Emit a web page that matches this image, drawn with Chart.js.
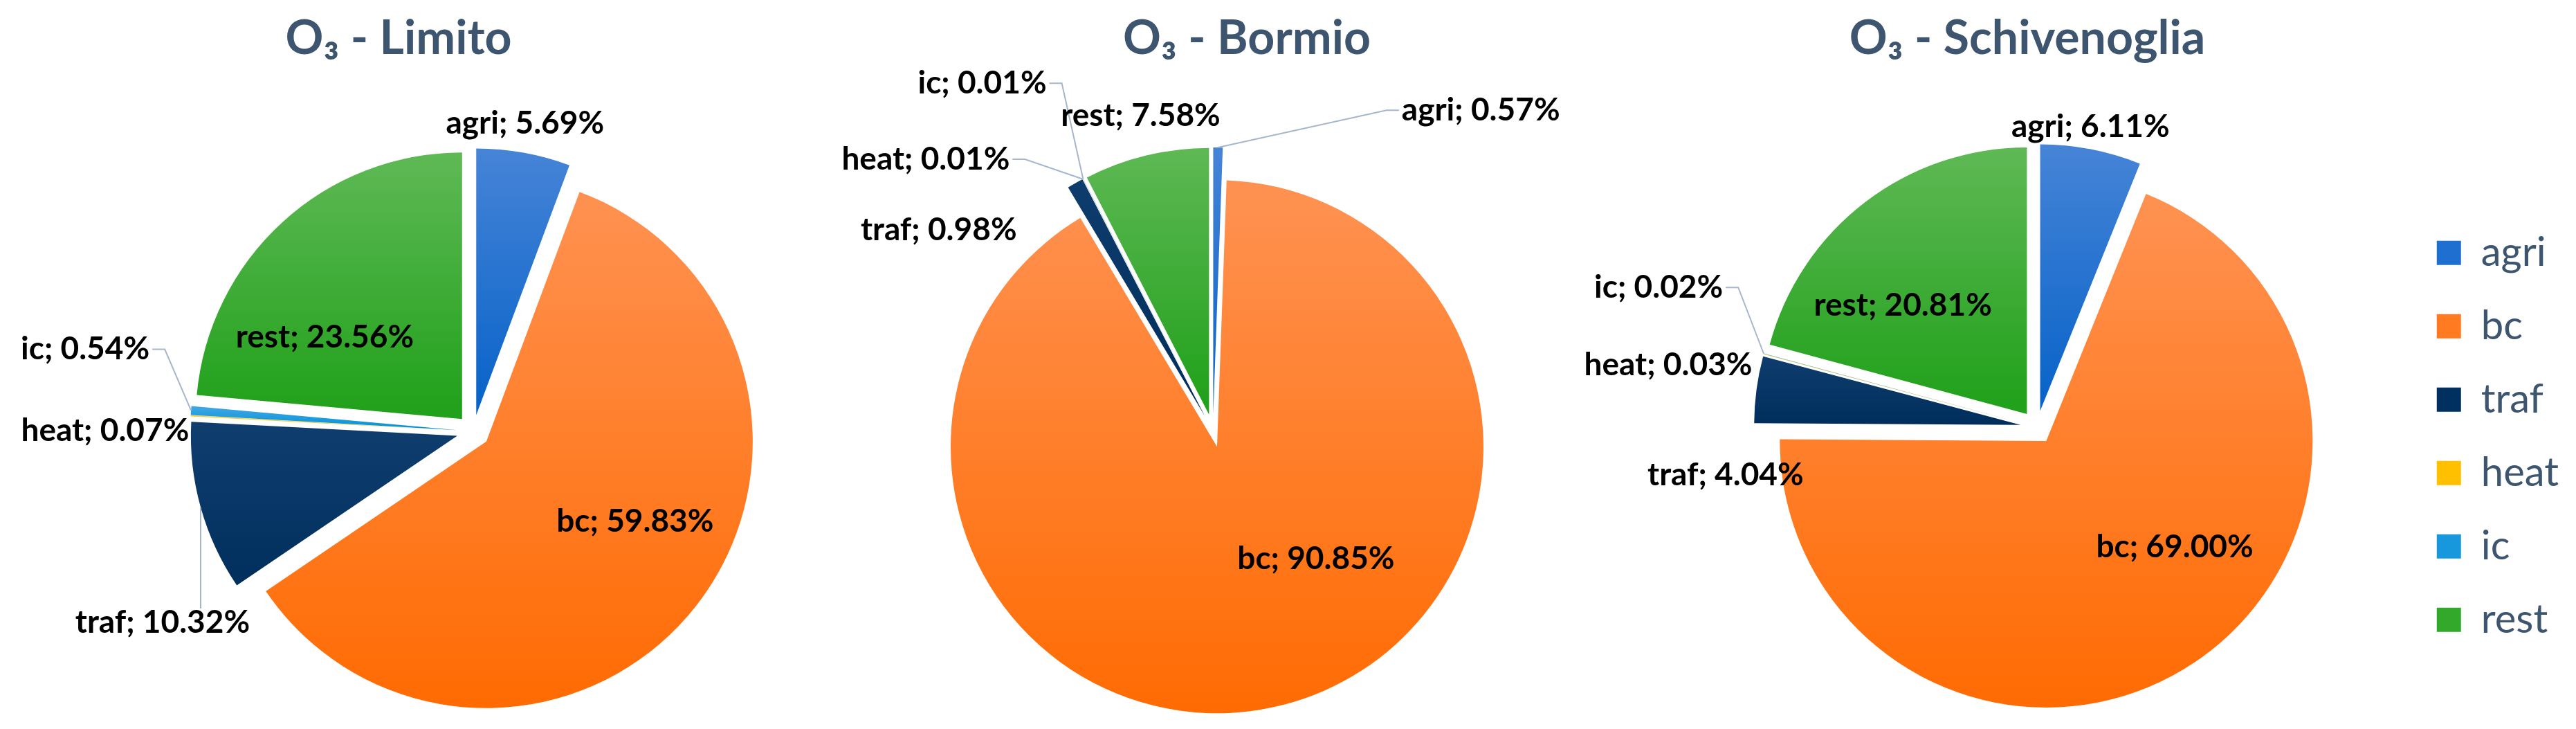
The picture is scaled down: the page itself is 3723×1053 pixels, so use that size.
<!DOCTYPE html>
<html>
<head>
<meta charset="utf-8">
<script src="https://cdn.jsdelivr.net/npm/chart.js@4.4.1/dist/chart.umd.min.js"></script>
<style>
  html, body { margin: 0; padding: 0; background: #fff; }
  #wrap { position: relative; width: 3723px; height: 1053px; overflow: hidden; }
  #wrap canvas { position: absolute; top: 0; }
</style>
</head>
<body>
<div id="wrap">
  <canvas id="c-limito" width="1152" height="1053" style="left:0px"></canvas>
  <canvas id="c-bormio" width="1300" height="1053" style="left:1152px"></canvas>
  <canvas id="c-schiv" width="1571" height="1053" style="left:2152px"></canvas>
</div>
<script>
// ---- data ----
const sources = ['agri', 'bc', 'traf', 'heat', 'ic', 'rest'];
const limitoShares = [5.69, 59.83, 10.32, 0.07, 0.54, 23.56];
const bormioShares = [0.57, 90.85, 0.98, 0.01, 0.01, 7.58];
const schivenogliaShares = [6.11, 69.00, 4.04, 0.03, 0.02, 20.81];

// ---- style ----
const baseColors = ['#0A64C9', '#FF6A00', '#002E5C', '#FFC000', '#0090D6', '#22A11C'];
const lightColors = ['#4A86D8', '#FF9150', '#0F3D6E', '#FFD233', '#45A9E6', '#62BA58'];
const legendColors = ['#1F6FD0', '#FF7A20', '#00305F', '#FFC000', '#1898DC', '#33A92C'];
const TEXT_BLUE = '#3E5570';
const PIE_RADIUS = 385;
const EXPLODE = 24;
const LABEL_FONT = 'bold 46px Lato, "Open Sans", sans-serif';

// label placement per slice: [angle nudge from slice middle (deg), distance / radius, leader line]
const limitoPlace = [[-0.7, 1.172, false], [-9.1, 0.695, false], [-16, 1.369, true], [-3, 1.382, false], [7.7, 1.489, true], [-15.2, 0.66, false]];
const bormioPlace = [[38.9, 1.567, true], [-24.4, 0.617, false], [-24.7, 1.275, false], [-19.3, 1.483, true], [-6.3, 1.565, true], [0.7, 1.212, false]];
const schivPlace = [[-0.9, 1.145, false], [-15.2, 0.685, false], [-16.4, 1.183, false], [-5.35, 1.404, false], [5.2, 1.514, true], [-10.4, 0.679, false]];

// vertical gradient over each slice's own extent (Excel-like fill)
function sliceFill(c) {
  const i = c.dataIndex;
  const area = c.chart.chartArea;
  if (!area || i === undefined) return baseColors[0];
  const vals = c.dataset.data;
  const total = vals.reduce((s, v) => s + v, 0);
  const before = vals.slice(0, i).reduce((s, v) => s + v, 0);
  const a0 = -Math.PI / 2 + 2 * Math.PI * before / total;
  const a1 = a0 + 2 * Math.PI * vals[i] / total;
  const mid = (a0 + a1) / 2;
  const cy = (area.top + area.bottom) / 2 + Math.sin(mid) * EXPLODE;
  const ys = [cy, cy + PIE_RADIUS * Math.sin(a0), cy + PIE_RADIUS * Math.sin(a1)];
  [Math.PI / 2, -Math.PI / 2, 3 * Math.PI / 2].forEach(k => { if (k > a0 && k < a1) ys.push(cy + PIE_RADIUS * Math.sin(k)); });
  const top = Math.min(...ys), bottom = Math.max(...ys);
  const g = c.chart.ctx.createLinearGradient(0, top, 0, bottom + 1);
  g.addColorStop(0, lightColors[i]);
  g.addColorStop(1, baseColors[i]);
  return g;
}

// move the chart area so the pie sits where it should under the title
const recenter = {
  id: 'recenter',
  afterLayout(chart, args, opts) {
    const a = chart.chartArea;
    const w = a.right - a.left, h = a.bottom - a.top;
    a.left = opts.x - w / 2; a.right = opts.x + w / 2;
    a.top = opts.y - h / 2; a.bottom = opts.y + h / 2;
  }
};

// exploded pie: every slice pushed out along its middle angle
const explode = {
  id: 'explode',
  beforeDatasetDraw(chart, args) {
    const ctx = chart.ctx;
    args.meta.data.forEach(arc => {
      const mid = (arc.startAngle + arc.endAngle) / 2;
      ctx.save();
      ctx.translate(Math.cos(mid) * EXPLODE, Math.sin(mid) * EXPLODE);
      arc.draw(ctx, chart.chartArea);
      ctx.restore();
    });
    return false;
  }
};

// "name; value%" labels, with leader lines for the far ones
const sliceLabels = {
  id: 'sliceLabels',
  afterDatasetsDraw(chart, args, opts) {
    const ctx = chart.ctx;
    const values = chart.data.datasets[0].data;
    const meta = chart.getDatasetMeta(0);
    ctx.save();
    ctx.font = LABEL_FONT;
    ctx.textAlign = 'center';
    ctx.textBaseline = 'middle';
    meta.data.forEach((arc, i) => {
      const {x, y, startAngle, endAngle, outerRadius} = arc.getProps(['x', 'y', 'startAngle', 'endAngle', 'outerRadius'], true);
      const [nudge, k, leader] = opts.place[i];
      const mid = (startAngle + endAngle) / 2;
      const a = mid + nudge * Math.PI / 180;
      const lx = x + Math.cos(a) * k * outerRadius;
      const ly = y + Math.sin(a) * k * outerRadius;
      const text = chart.data.labels[i] + '; ' + values[i].toFixed(2) + '%';
      if (leader) {
        const w = ctx.measureText(text).width;
        const px = x + Math.cos(mid) * (outerRadius + EXPLODE);
        const py = y + Math.sin(mid) * (outerRadius + EXPLODE);
        ctx.strokeStyle = '#A6B6CC';
        ctx.lineWidth = 2;
        ctx.beginPath();
        if (px > lx + w / 2) {
          ctx.moveTo(lx + w / 2 + 4, ly); ctx.lineTo(lx + w / 2 + 22, ly);
        } else if (px < lx - w / 2) {
          ctx.moveTo(lx - w / 2 - 4, ly); ctx.lineTo(lx - w / 2 - 22, ly);
        } else {
          ctx.moveTo(px, py < ly ? ly - 20 : ly + 20);
        }
        ctx.lineTo(px, py);
        ctx.stroke();
      }
      ctx.fillStyle = '#000';
      ctx.fillText(text, lx, ly);
    });
    ctx.restore();
  }
};

function makePie(id, title, values, place, center, withLegend) {
  return new Chart(document.getElementById(id), {
    type: 'pie',
    data: {
      labels: sources,
      datasets: [{ data: values, backgroundColor: sliceFill, borderWidth: 0 }]
    },
    options: {
      responsive: false,
      animation: false,
      events: [],
      radius: PIE_RADIUS,
      layout: { padding: withLegend ? { right: 15 } : 0 },
      plugins: {
        title: {
          display: true,
          text: title,
          color: TEXT_BLUE,
          font: { family: 'Lato', size: 68, weight: 'bold' },
          padding: { top: 15, bottom: 111 }
        },
        legend: withLegend ? {
          display: true,
          position: 'right',
          fullSize: false,
          labels: {
            boxWidth: 35,
            boxHeight: 35,
            padding: 48,
            color: TEXT_BLUE,
            font: { family: 'Lato', size: 58 },
            generateLabels: chart => chart.data.labels.map((t, i) => ({
              text: t, fillStyle: legendColors[i], strokeStyle: legendColors[i],
              lineWidth: 0, fontColor: TEXT_BLUE, hidden: false, index: i
            }))
          }
        } : { display: false },
        tooltip: { enabled: false },
        recenter: center,
        sliceLabels: { place }
      }
    },
    plugins: [recenter, explode, sliceLabels]
  });
}

makePie('c-limito', 'O₃ - Limito', limitoShares, limitoPlace, { x: 684, y: 623 }, false);
makePie('c-bormio', 'O₃ - Bormio', bormioShares, bormioPlace, { x: 601, y: 622 }, false);
makePie('c-schiv', 'O₃ - Schivenoglia', schivenogliaShares, schivPlace, { x: 792, y: 617 }, true);
</script>
</body>
</html>
